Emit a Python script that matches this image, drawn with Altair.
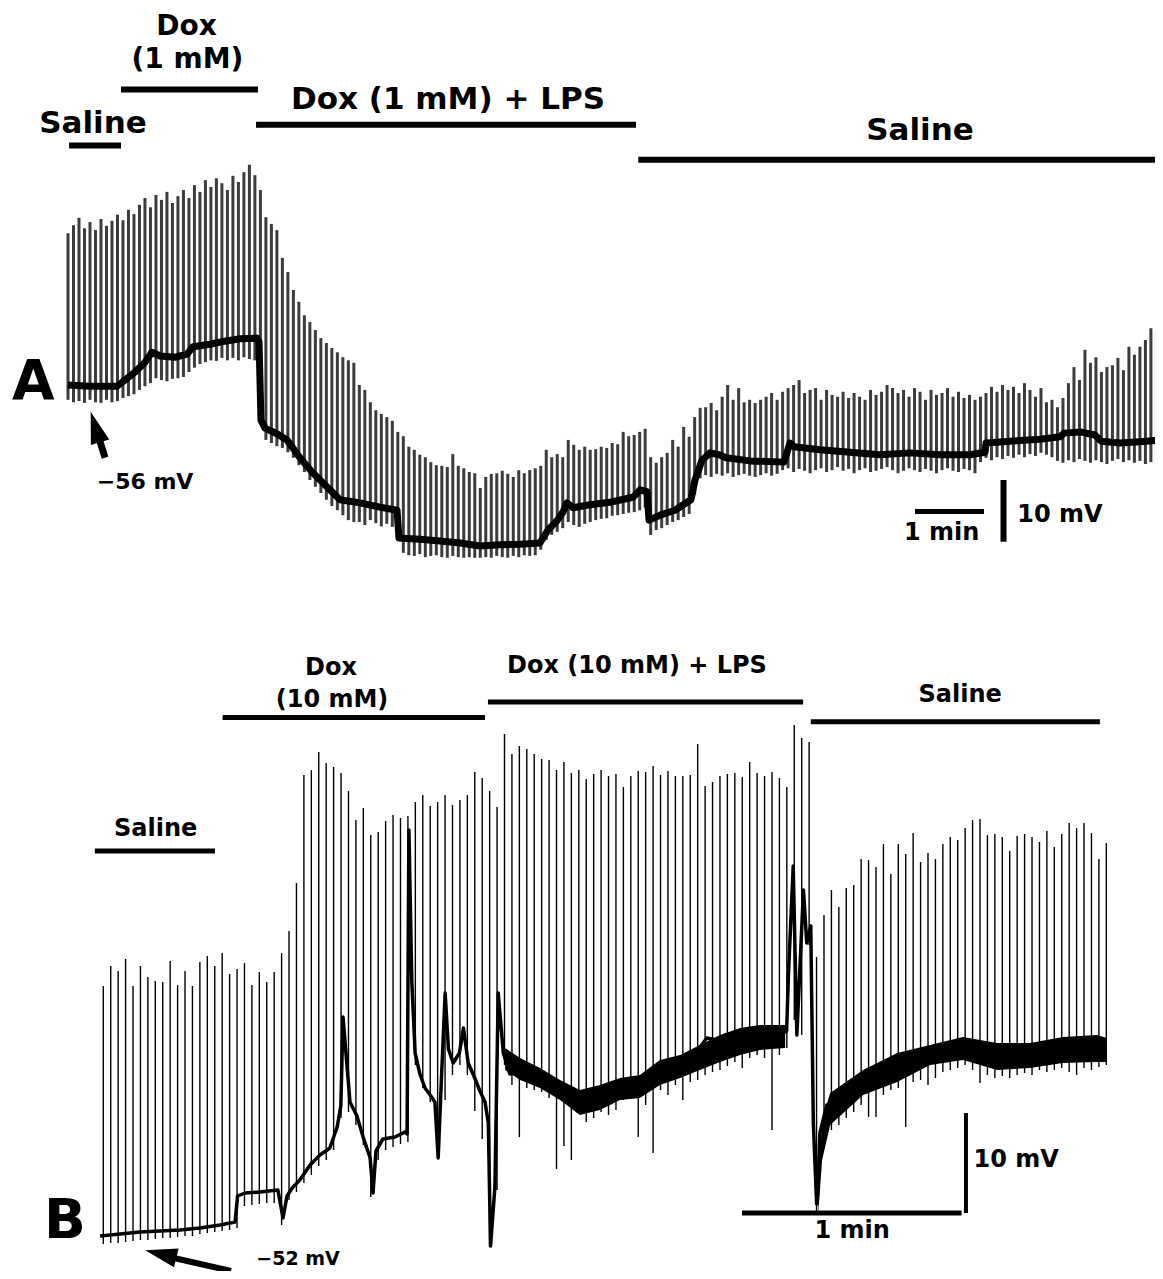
import altair as alt
import pandas as pd

# ======================= Panel A : Dox (1 mM) =======================
# plotted spike samples, one every A_SAMPLE_S seconds, values in mV
A_SAMPLE_S = 4.78
A_peak = [
    -31.4, -30.1, -28.9, -30.6, -29.6, -30.9, -29.1, -30.2, -29.4, -28.4,
    -29.3, -27.6, -28.3, -26.8, -25.7, -27.2, -25.2, -26.0, -24.7, -26.5,
    -25.4, -24.4, -25.7, -23.6, -24.7, -22.8, -23.9, -22.5, -23.3, -24.4,
    -22.1, -23.1, -21.5, -20.3, -22.0, -24.4, -28.8, -29.9, -30.9, -35.4,
    -37.7, -40.6, -42.5, -44.7, -45.8, -47.1, -48.4, -49.2, -50.0, -50.7,
    -51.5, -52.0, -52.4, -56.0, -56.8, -58.8, -60.1, -60.7, -61.2, -61.8,
    -63.6, -64.3, -66.0, -66.5, -67.3, -67.7, -68.5, -69.0, -69.1, -69.3,
    -67.2, -69.1, -69.5, -70.1, -70.3, -72.7, -70.9, -70.4, -70.3, -69.9,
    -70.4, -70.9, -69.8, -70.3, -69.8, -69.5, -69.1, -66.5, -67.7, -67.2,
    -67.7, -64.9, -65.7, -66.5, -66.0, -66.5, -66.4, -66.0, -66.2, -65.4,
    -65.6, -63.6, -64.3, -64.1, -63.6, -63.1, -67.7, -68.6, -67.7, -67.0,
    -64.9, -66.0, -62.8, -64.4, -61.2, -59.7, -59.6, -58.9, -60.1, -57.9,
    -56.0, -58.4, -56.5, -58.8, -58.4, -58.9, -58.4, -57.9, -57.3, -58.4,
    -57.1, -56.5, -56.0, -55.2, -57.3, -56.8, -56.5, -58.4, -56.8, -57.6,
    -57.9, -57.1, -58.1, -57.3, -57.9, -58.4, -56.8, -57.6, -57.1, -56.0,
    -56.5, -57.3, -56.8, -57.9, -56.5, -57.1, -58.4, -56.8, -57.6, -57.3,
    -56.5, -57.9, -57.1, -58.1, -57.6, -58.4, -57.9, -57.3, -56.3, -57.1,
    -56.0, -56.8, -56.3, -57.3, -55.7, -56.8, -57.9, -56.5, -58.8, -58.4,
    -59.6, -58.1, -55.7, -53.1, -55.2, -50.3, -52.4, -51.5, -53.9, -53.1,
    -52.8, -51.6, -53.6, -49.8, -51.1, -49.8, -48.7, -46.8, -47.6, -46.6,
]
A_trough = [
    -58.4, -58.8, -58.6, -58.9, -58.4, -58.8, -58.9, -58.4, -58.8, -58.6,
    -58.1, -57.8, -57.5, -56.8, -56.2, -55.7, -54.9, -55.2, -55.4, -55.0,
    -54.9, -54.7, -53.9, -53.2, -52.6, -52.3, -52.0, -52.1, -51.6, -52.0,
    -51.6, -52.0, -51.5, -51.8, -52.0, -61.7, -64.9, -65.4, -65.9, -66.2,
    -66.9, -67.8, -69.0, -70.1, -71.4, -72.5, -73.5, -74.6, -75.6, -76.3,
    -77.1, -77.9, -78.2, -78.2, -78.7, -77.9, -78.4, -78.9, -78.5, -79.0,
    -78.7, -83.2, -83.6, -83.7, -83.4, -83.9, -83.7, -83.6, -83.9, -84.0,
    -83.7, -83.9, -84.0, -83.9, -84.0, -84.0, -83.9, -84.0, -83.7, -83.9,
    -84.0, -83.7, -83.9, -83.6, -83.7, -83.6, -82.7, -81.1, -80.3, -79.8,
    -79.2, -78.2, -78.7, -79.0, -78.5, -78.2, -77.9, -77.7, -77.6, -77.2,
    -77.1, -76.9, -76.7, -76.6, -76.3, -75.9, -80.3, -79.5, -79.2, -78.7,
    -78.2, -77.9, -77.4, -76.9, -73.8, -71.1, -70.6, -70.9, -70.4, -70.7,
    -70.3, -70.9, -70.6, -70.4, -70.7, -70.9, -70.6, -70.3, -70.7, -70.4,
    -69.8, -69.5, -70.1, -69.6, -69.9, -70.3, -69.8, -69.5, -70.1, -69.8,
    -69.3, -69.9, -69.6, -70.3, -69.8, -69.5, -70.1, -69.9, -69.6, -69.3,
    -69.8, -70.3, -69.9, -69.5, -69.8, -70.1, -69.6, -69.9, -70.3, -69.8,
    -69.5, -69.9, -70.1, -69.6, -69.8, -70.3, -68.5, -67.8, -68.2, -67.7,
    -68.0, -67.5, -67.8, -67.3, -67.7, -67.2, -67.5, -67.0, -67.3, -67.7,
    -68.3, -68.6, -68.2, -68.5, -68.0, -68.3, -68.6, -68.2, -68.5, -68.8,
    -68.3, -68.0, -68.5, -68.2, -68.6, -68.3, -68.8, -68.5, -68.2, -68.5,
]
# resting (baseline) trace of A: time (s), mV
A_base_t = [0.0, 19.1, 42.6, 49.6, 58.3, 67.0, 73.0, 80.0, 93.0, 103.5,
            108.7, 123.5, 136.5, 149.6, 164.3, 166.1, 167.8, 171.3, 181.7, 190.4,
            201.7, 212.2, 223.5, 236.5, 253.9, 271.3, 286.1, 287.8, 306.1, 323.5,
            340.9, 358.3, 375.7, 393.0, 410.4, 417.4, 425.2, 430.4, 433.9, 439.1,
            453.9, 471.3, 491.3, 497.4, 503.5, 505.2, 514.8, 527.8, 541.7, 545.2,
            551.3, 558.3, 566.1, 572.2, 593.0, 622.6, 627.8, 631.3, 653.9, 680.0,
            706.1, 732.2, 758.3, 784.3, 797.4, 798.3, 819.1, 845.2, 862.6, 866.1,
            880.0, 893.0, 898.3, 914.8, 932.2, 952.2]
A_base_v = [-56.0, -56.2, -56.2, -55.2, -53.9, -52.3, -50.7, -51.3, -51.5, -51.0,
            -49.8, -49.4, -48.9, -48.5, -48.4, -49.0, -61.7, -63.0, -63.9, -64.9,
            -67.8, -70.1, -72.2, -74.6, -75.1, -75.8, -76.3, -80.8, -81.0, -81.3,
            -81.6, -82.1, -81.9, -81.8, -81.6, -79.5, -78.0, -76.6, -75.1, -75.9,
            -75.4, -75.0, -74.2, -73.0, -73.3, -77.9, -77.1, -76.3, -74.6, -71.4,
            -68.2, -67.0, -67.3, -67.8, -68.3, -68.5, -65.4, -66.0, -66.5, -66.9,
            -67.3, -67.0, -67.3, -67.3, -66.9, -65.4, -65.1, -64.8, -64.4, -63.8,
            -63.6, -64.1, -65.1, -65.4, -65.2, -64.9]

# treatment bars of A (start s, end s, level mV)
A_bar_start = [0.9, 46.1, 163.5, 495.9]
A_bar_end = [46.1, 165.2, 493.9, 952.2]
A_bar_level = [-17.2, -8.1, -13.8, -19.5]
A_lab_text = ["Saline", "Dox (1 mM) + LPS", "Saline"]
A_lab_t = [21.7, 330.4, 740.9]
A_lab_v = [-15.2, -11.2, -16.3]
# stacked label over the Dox (1 mM) bar
A_dox_text = ["Dox", "(1 mM)"]
A_dox_t = [103.0, 103.9]
A_dox_v = [0.73, -4.62]
# scale bars of A: 1 min and 10 mV
A_sb_min = {"t0": 736.5, "t1": 796.5, "v": -76.5}
A_sb_mv = {"t": 813.5, "v0": -71.4, "v1": -81.4}
A_sb_text = ["1 min", "10 mV"]
A_sb_t = [759.7, 862.6]
A_sb_v = [-81.1, -78.2]

# ======================= Panel B : Dox (10 mM) =======================
B_T0_S = 0.9
B_PERIOD_S = 2.03
B_peak = [
    -27.1, -25.1, -25.6, -24.4, -27.1, -25.1, -26.2, -26.6, -26.7, -24.6,
    -27.0, -25.6, -27.1, -24.7, -24.1, -25.1, -23.8, -25.9, -25.4, -24.8,
    -27.0, -25.7, -26.7, -25.7, -23.8, -21.6, -16.8, -6.0, -5.5, -3.7,
    -4.8, -5.2, -5.8, -7.6, -10.5, -9.3, -12.0, -11.7, -10.6, -10.0,
    -10.3, -10.1, -8.7, -8.0, -9.1, -8.7, -8.0, -9.0, -8.5, -8.0,
    -5.7, -6.3, -7.6, -9.2, -1.9, -3.9, -3.1, -3.4, -3.9, -4.4,
    -4.5, -5.5, -4.7, -5.8, -5.5, -6.4, -5.9, -5.5, -6.1, -5.9,
    -7.2, -6.1, -5.6, -5.7, -5.1, -6.0, -5.6, -6.1, -6.1, -6.0,
    -2.9, -7.1, -6.7, -6.1, -5.9, -5.8, -6.2, -4.7, -5.8, -6.1,
    -5.7, -6.3, -7.2, -1.0, -2.3, -2.7, -24.2, -20.0, -17.5, -19.2,
    -17.3, -17.0, -14.4, -14.5, -15.2, -12.9, -15.9, -12.9, -13.9, -11.8,
    -14.7, -13.8, -14.4, -12.9, -12.2, -12.5, -11.3, -10.5, -10.4, -12.0,
    -11.9, -12.2, -13.6, -12.1, -11.9, -12.2, -12.7, -11.6, -13.2, -11.9,
    -10.8, -11.3, -10.8, -11.8, -14.4, -12.8,
]
B_trough = [
    -52.9, -52.8, -52.8, -52.7, -52.6, -52.5, -52.5, -52.4, -52.3, -52.3,
    -52.2, -52.1, -52.1, -51.9, -51.8, -51.7, -51.6, -51.5, -51.3, -49.1,
    -49.0, -48.9, -48.8, -48.8, -51.0, -48.5, -47.7, -46.8, -46.0, -45.1,
    -44.5, -43.5, -40.3, -39.7, -41.0, -43.0, -48.2, -44.5, -43.5, -43.2,
    -42.9, -42.7, -35.0, -37.3, -38.7, -44.3, -38.5, -36.0, -35.0, -36.0,
    -39.6, -42.4, -53.1, -47.5, -35.0, -37.0, -42.2, -37.3, -37.5, -37.7,
    -38.3, -45.4, -43.1, -44.5, -39.7, -40.7, -40.3, -39.7, -40.0, -39.5,
    -38.5, -38.3, -42.2, -39.0, -43.8, -37.5, -38.0, -37.0, -38.5, -36.7,
    -36.5, -36.0, -35.7, -35.5, -35.1, -34.7, -35.3, -34.3, -34.0, -34.3,
    -41.5, -34.0, -33.3, -30.5, -32.0, -23.0, -49.7, -43.0, -41.5, -41.0,
    -40.3, -39.7, -39.0, -40.2, -40.2, -38.0, -37.5, -37.3, -41.2, -36.7,
    -36.5, -37.0, -36.3, -35.7, -35.5, -35.3, -35.0, -35.5, -36.8, -36.0,
    -36.3, -36.1, -36.3, -36.0, -35.8, -36.0, -35.5, -35.7, -35.5, -35.3,
    -35.7, -36.0, -35.3, -35.5, -35.2, -35.0,
]
B_base_t = [0.0, 5.5, 10.9, 16.4, 21.9, 27.3, 32.8, 36.9, 37.6, 39.6,
            43.7, 48.6, 50.0, 51.1, 52.5, 54.6, 57.4, 60.1, 62.8, 64.8,
            65.8, 66.4, 67.2, 68.3, 70.2, 71.9, 73.8, 74.6, 75.4, 77.3,
            80.6, 83.3, 83.9, 84.4, 85.2, 86.1, 87.4, 88.8, 90.2, 91.5,
            92.4, 93.1, 94.3, 95.2, 96.5, 98.2, 99.3, 100.6, 102.5, 103.8,
            105.2, 106.1, 106.7, 107.9, 108.8, 110.2, 112.0, 113.8, 116.6, 120.2,
            123.0, 125.7, 129.3, 132.1, 135.7, 140.2, 143.9, 146.6, 151.2, 156.6,
            162.1, 165.8, 171.2, 176.7, 182.2, 185.8, 187.6, 188.1, 189.4, 190.4,
            192.2, 193.1, 194.2, 194.9, 195.8, 196.0, 196.7, 198.6, 199.5, 208.5,
            217.8, 226.8, 235.8, 245.1, 254.1, 263.1, 272.4, 275.1]
B_base_v = [-52.1, -51.9, -51.7, -51.6, -51.5, -51.3, -51.0, -50.7, -48.1, -47.8,
            -47.7, -47.5, -50.3, -48.1, -47.3, -46.5, -45.0, -44.0, -43.3, -41.2,
            -39.1, -30.2, -33.8, -38.7, -40.1, -42.2, -44.3, -47.8, -43.6, -42.4,
            -42.2, -41.7, -41.9, -11.5, -26.7, -33.8, -35.9, -37.3, -38.0, -38.7,
            -44.3, -38.0, -27.8, -33.4, -34.8, -33.8, -31.3, -34.8, -36.4, -37.6,
            -38.7, -40.8, -53.1, -47.2, -27.8, -33.8, -35.9, -34.8, -35.9, -36.2,
            -36.9, -37.6, -38.3, -39.4, -38.3, -38.0, -36.6, -37.6, -35.5, -35.2,
            -34.1, -32.3, -32.7, -32.0, -31.6, -32.0, -31.6, -26.0, -15.1, -32.0,
            -17.5, -22.8, -21.1, -40.8, -48.9, -48.5, -41.8, -39.0, -39.2, -36.7,
            -35.2, -34.0, -33.3, -34.2, -34.0, -33.5, -33.3, -33.5]
# noisy thick band of the B baseline (two stretches)
B_band_seg = [1] * 15 + [2] * 12
B_band_t = [110.7, 114.8, 120.2, 125.7, 131.1, 136.6, 142.1, 147.5, 153.0, 158.5,
            163.9, 169.4, 174.9, 180.3, 187.2,
            196.2, 197.3, 199.5, 208.5, 217.8, 226.8, 235.8, 245.1, 254.1, 263.1,
            272.4, 275.1]
B_band_hi = [-33.3, -34.3, -35.3, -36.5, -37.5, -37.0, -36.3, -36.0, -34.5, -34.0,
             -33.0, -32.0, -31.3, -31.0, -31.0,
             -48.0, -40.5, -37.8, -35.5, -33.8, -33.0, -32.2, -32.8, -32.8, -32.2,
             -32.0, -32.3]
B_band_lo = [-35.5, -36.5, -37.3, -38.5, -40.0, -39.5, -38.5, -38.3, -37.0, -36.3,
             -35.5, -34.7, -34.0, -33.5, -33.3,
             -50.0, -44.5, -41.0, -38.0, -36.7, -35.0, -34.5, -35.5, -35.3, -34.8,
             -34.7, -34.7]

B_bar_start = [-1.4, 33.5, 106.0, 194.2]
B_bar_end = [31.4, 105.2, 192.1, 273.2]
B_bar_level = [-13.6, -0.25, 1.3, -0.67]
B_lab_text = ["Saline", "Dox", "(10 mM)", "Dox (10 mM) + LPS", "Saline"]
B_lab_t = [15.2, 63.1, 63.4, 146.7, 235.0]
B_lab_v = [-12.1, 4.0, 0.8, 4.2, 1.3]
B_sb_min = {"t0": 175.4, "t1": 235.4, "v": -49.8}
B_sb_mv = {"t": 236.6, "v0": -39.8, "v1": -49.8}
B_sb_text = ["10 mV", "1 min"]
B_sb_t = [250.3, 205.5]
B_sb_v = [-45.2, -52.3]

# ======================= layout (scale calibration) =======================
W, H = 1147, 1263
FONT = "DejaVu Sans"
# panel A: t=0 s at x=60, 1.15 px/s ; -56 mV at y=377, 6.17 px/mV
xA = alt.Scale(domain=[0, 1000], range=[60, 60 + 1000 * 1.15], nice=False, zero=False)
yA = alt.Scale(domain=[-90, -20], range=[377 + 34 * 6.17, 377 - 36 * 6.17], nice=False, zero=False)
# panel B: t=0 s at x=92, 3.66 px/s ; -52 mV at y=1227, 10 px/mV
xB = alt.Scale(domain=[0, 300], range=[92, 92 + 300 * 3.66], nice=False, zero=False)
yB = alt.Scale(domain=[-60, 0], range=[1227 + 8 * 10, 1227 - 52 * 10], nice=False, zero=False)

ARROW = "M0,-1L0.6,1L-0.6,1Z"


def X(f, s):
    return alt.X(f, type="quantitative", scale=s, axis=None)


def Y(f, s):
    return alt.Y(f, type="quantitative", scale=s, axis=None)


def text_layer(df, xs, ys, size, **kw):
    return alt.Chart(df).mark_text(font=FONT, fontWeight="bold", fontSize=size,
                                   align="center", baseline="alphabetic",
                                   color="black", **kw).encode(
        x=X("t", xs), y=Y("v", ys), text="label:N")


def build_panel(xs, ys, spikes, base, bars, bar_w, labels, lab_size, sb_min, sb_min_w,
                sb_mv, sb_mv_w, sb_lab, sb_size, mv_lab, mv_size, letter, arrow,
                spike_style, base_w, extra=None):
    layers = []
    if extra is not None:
        layers.extend(extra)
    layers.append(
        alt.Chart(spikes).mark_rule(**spike_style).encode(
            x=X("t", xs), y=Y("lo", ys), y2="hi")
    )
    layers.append(
        alt.Chart(base).mark_line(color="black", strokeWidth=base_w, strokeJoin="round").encode(
            x=X("t", xs), y=Y("v", ys))
    )
    layers.append(
        alt.Chart(bars).mark_rule(color="black", strokeWidth=bar_w, strokeCap="butt").encode(
            x=X("t0", xs), x2="t1", y=Y("v", ys))
    )
    layers.append(text_layer(labels, xs, ys, lab_size))
    layers.append(
        alt.Chart(pd.DataFrame([sb_min])).mark_rule(color="black", strokeWidth=sb_min_w,
                                                   strokeCap="butt").encode(
            x=X("t0", xs), x2="t1", y=Y("v", ys))
    )
    layers.append(
        alt.Chart(pd.DataFrame([sb_mv])).mark_rule(color="black", strokeWidth=sb_mv_w,
                                                  strokeCap="butt").encode(
            x=X("t", xs), y=Y("v0", ys), y2="v1")
    )
    layers.append(text_layer(sb_lab, xs, ys, sb_size))
    layers.append(text_layer(mv_lab, xs, ys, mv_size))
    layers.append(text_layer(letter, xs, ys, 55))
    shaft, head, angle, shaft_w = arrow
    layers.append(
        alt.Chart(shaft).mark_rule(color="black", strokeWidth=shaft_w, strokeCap="butt").encode(
            x=X("t0", xs), x2="t1", y=Y("v0", ys), y2="v1")
    )
    layers.append(
        alt.Chart(head).mark_point(shape=ARROW, filled=True, size=1024, angle=angle,
                                   color="black", opacity=1, strokeWidth=0).encode(
            x=X("t", xs), y=Y("v", ys))
    )
    return alt.layer(*layers)


# ---------- tables for A ----------
dA_spk = pd.DataFrame({"t": [i * A_SAMPLE_S for i in range(len(A_peak))],
                       "hi": A_peak, "lo": A_trough})
dA_base = pd.DataFrame({"t": A_base_t, "v": A_base_v})
dA_bars = pd.DataFrame({"t0": A_bar_start, "t1": A_bar_end, "v": A_bar_level})
dA_lab = pd.DataFrame({"t": A_lab_t, "v": A_lab_v, "label": A_lab_text})
dA_dox = pd.DataFrame({"t": A_dox_t, "v": A_dox_v, "label": A_dox_text})
dA_sb = pd.DataFrame({"t": A_sb_t, "v": A_sb_v, "label": A_sb_text})
dA_mv = pd.DataFrame({"t": [67.0], "v": [-72.9], "label": ["\u221256 mV"]})
dA_let = pd.DataFrame({"t": [-30.2], "v": [-58.2], "label": ["A"]})
dA_shaft = pd.DataFrame({"t0": [26.1], "t1": [32.2], "v0": [-64.1], "v1": [-67.8]})
dA_head = pd.DataFrame({"t": [23.8], "v": [-62.8]})

dox_A = text_layer(dA_dox, xA, yA, 28)

panelA = build_panel(
    xA, yA, dA_spk, dA_base, dA_bars, 6, dA_lab, 31, A_sb_min, 5, A_sb_mv, 6,
    dA_sb, 24, dA_mv, 22, dA_let, (dA_shaft, dA_head, 343, 7),
    dict(color="#3c3c3c", strokeWidth=3.0), 7, extra=[dox_A],
)

# ---------- tables for B ----------
dB_spk = pd.DataFrame({"t": [B_T0_S + i * B_PERIOD_S for i in range(len(B_peak))],
                       "hi": B_peak, "lo": B_trough})
dB_base = pd.DataFrame({"t": B_base_t, "v": B_base_v})
dB_band = pd.DataFrame({"seg": B_band_seg, "t": B_band_t, "hi": B_band_hi, "lo": B_band_lo})
dB_bars = pd.DataFrame({"t0": B_bar_start, "t1": B_bar_end, "v": B_bar_level})
dB_lab = pd.DataFrame({"t": B_lab_t, "v": B_lab_v, "label": B_lab_text})
dB_sb = pd.DataFrame({"t": B_sb_t, "v": B_sb_v, "label": B_sb_text})
dB_mv = pd.DataFrame({"t": [54.1], "v": [-55.0], "label": ["\u221252 mV"]})
dB_let = pd.DataFrame({"t": [-9.6], "v": [-52.3], "label": ["B"]})
dB_shaft = pd.DataFrame({"t0": [17.8], "t1": [35.8], "v0": [-54.1], "v1": [-55.6]})
dB_head = pd.DataFrame({"t": [16.6], "v": [-53.9]})

band = alt.Chart(dB_band).mark_area(color="black", opacity=1).encode(
    x=X("t", xB), y=Y("lo", yB), y2="hi", detail="seg:N")

panelB = build_panel(
    xB, yB, dB_spk, dB_base, dB_bars, 5, dB_lab, 24, B_sb_min, 5, B_sb_mv, 4,
    dB_sb, 24, dB_mv, 19, dB_let, (dB_shaft, dB_head, 284, 6),
    dict(color="black", strokeWidth=1.4), 3.5, extra=[band],
)

chart = (
    alt.layer(panelA, panelB)
    .resolve_scale(x="independent", y="independent")
    .properties(width=W, height=H, padding=0, autosize=alt.AutoSizeParams(type="none"),
                background="white")
    .configure_view(stroke=None)
)

chart.save("out.html", embed_options={"renderer": "svg", "actions": False})
